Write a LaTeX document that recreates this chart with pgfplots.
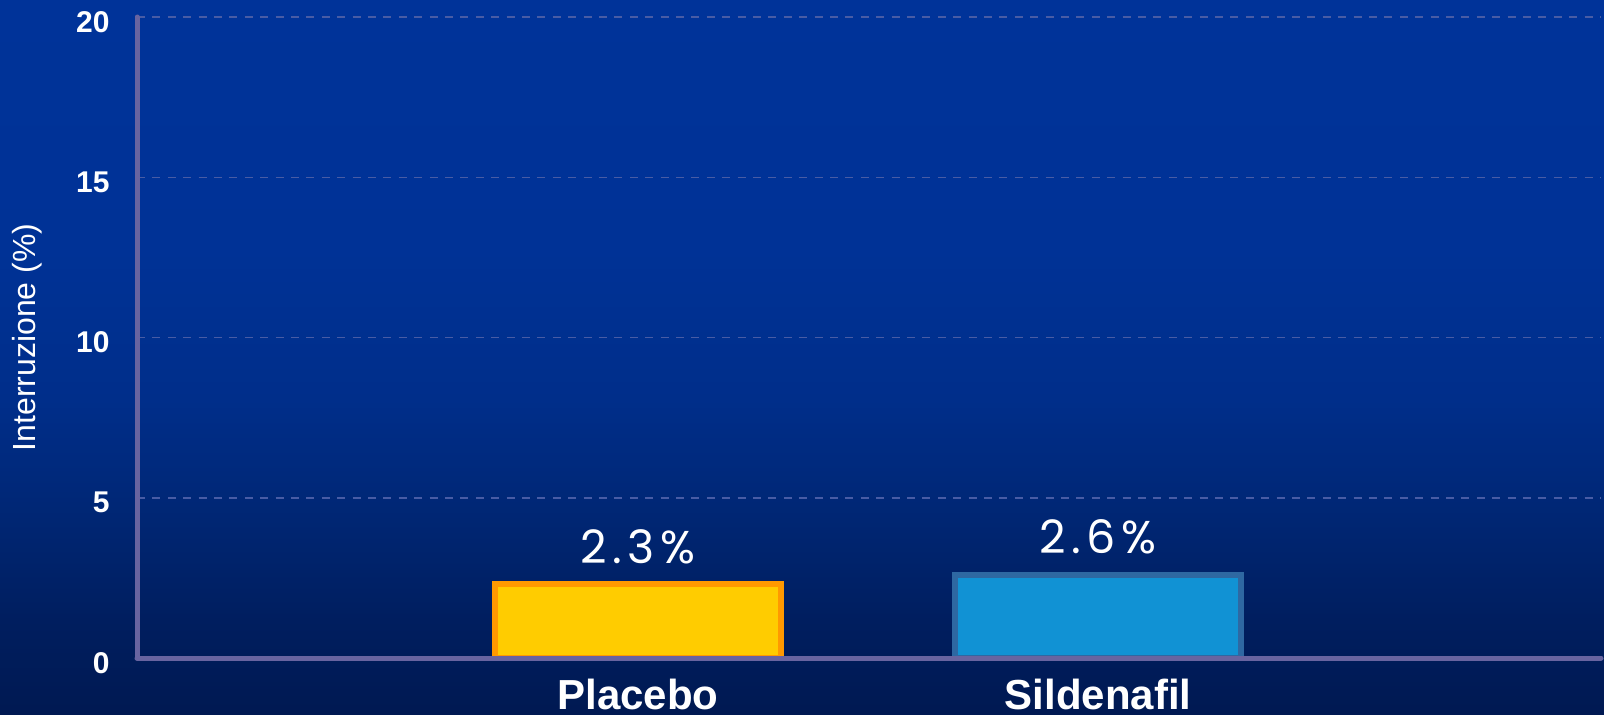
\documentclass[border=0pt]{standalone}
\usepackage{pgfplots}
\pgfplotsset{compat=1.18}
\usepackage{fontspec}
\setmainfont{Liberation Sans}
\newfontfamily\poppins[LetterSpace=12]{Poppins}
\definecolor{bgA}{RGB}{0,25,82}
\definecolor{bgB}{RGB}{0,30,95}
\definecolor{bgC}{RGB}{0,38,115}
\definecolor{bgD}{RGB}{0,46,138}
\definecolor{bgE}{RGB}{0,50,150}
\definecolor{bgF}{RGB}{0,51,153}
\pgfdeclareverticalshading{bgsh}{100bp}{color(0bp)=(bgA); color(25bp)=(bgA); color(31.58bp)=(bgB); color(38.59bp)=(bgC); color(46.99bp)=(bgD); color(57.49bp)=(bgE); color(75bp)=(bgF); color(100bp)=(bgF)}
\definecolor{axcol}{RGB}{104,100,160}
\definecolor{gridcol}{RGB}{72,92,165}
\definecolor{plfill}{RGB}{255,204,0}
\definecolor{pldraw}{RGB}{255,153,0}
\definecolor{sifill}{RGB}{17,146,212}
\definecolor{sidraw}{RGB}{46,104,162}
\begin{document}
\begin{tikzpicture}
\path[use as bounding box] (0,0) rectangle (802pt,357pt);
\clip (0,0) rectangle (802pt,357pt);
\shade[shading=bgsh] (0,0) rectangle (802pt,357pt);
\begin{axis}[
  at={(68.5pt,28pt)}, anchor=south west,
  scale only axis, width=732pt, height=320.5pt,
  xmin=-0.0891, xmax=3.0935, ymin=0, ymax=20,
  axis x line*=bottom, axis y line*=left,
  axis line style={-, line width=2.5pt, color=axcol, line cap=round},
  axis on top,
  xtick={1,2}, xticklabels={Placebo,Sildenafil},
  ytick={0,5,10,15,20},
  major tick length=0pt,
  ymajorgrids,
  major grid style={gridcol, line width=0.75pt, dash pattern=on 4pt off 3.7pt},
  /pgf/number format/assume math mode=true,
  yticklabel style={font=\fontsize{15}{18}\selectfont\bfseries, text=white, anchor=east, inner sep=0pt, xshift=-13.5pt, yshift=-2.5pt},
  xticklabel style={font=\fontsize{21}{25}\selectfont\bfseries, text=white, anchor=base, inner sep=0pt, yshift=-25.5pt},
  ylabel={Interruzione (\%)},
  ylabel style={font=\fontsize{16}{19}\selectfont, text=white, at={(axis description cs:-0.0751,0.5)}, anchor=center, rotate=0},
  ybar, bar width=143pt, bar shift=0pt,
  point meta=y,
  nodes near coords={\pgfmathprintnumber[fixed,fixed zerofill,precision=1,assume math mode=true]{\pgfplotspointmeta}\%},
  every node near coord/.style={font=\poppins\fontsize{23}{28}\selectfont, text=white, anchor=base, inner sep=0pt, yshift=10.5pt},
]
\addplot[fill=plfill, draw=pldraw, line width=3pt] coordinates {(1,2.3)};
\addplot[fill=sifill, draw=sidraw, line width=3pt] coordinates {(2,2.6)};
\end{axis}
\end{tikzpicture}
\end{document}
